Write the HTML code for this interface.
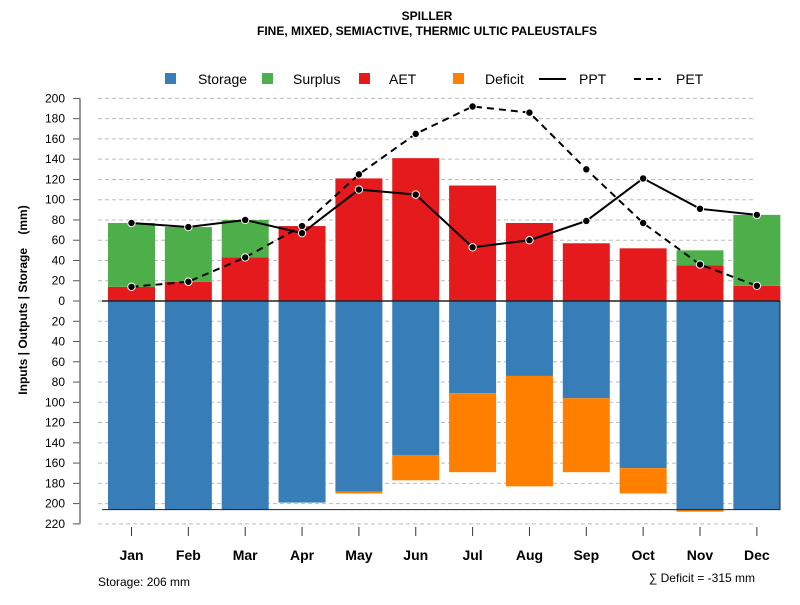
<!DOCTYPE html>
<html><head><meta charset="utf-8"><style>
body{margin:0;background:#fff}
svg{font-family:"Liberation Sans",sans-serif}
</style></head><body>
<svg id="c" width="800" height="600" xmlns="http://www.w3.org/2000/svg">
<text x="427" y="20" text-anchor="middle" font-size="12" font-weight="bold">SPILLER</text>
<text x="427" y="35" text-anchor="middle" font-size="12" font-weight="bold">FINE, MIXED, SEMIACTIVE, THERMIC ULTIC PALEUSTALFS</text>
<g id="legend" font-size="14">
<rect x="165" y="73" width="11" height="11" fill="#377EB8"/>
<text x="198" y="84">Storage</text>
<rect x="262" y="73" width="11" height="11" fill="#4DAF4A"/>
<text x="293" y="84">Surplus</text>
<rect x="359" y="73" width="11" height="11" fill="#E41A1C"/>
<text x="389" y="84">AET</text>
<rect x="453" y="73" width="11" height="11" fill="#FF7F00"/>
<text x="485" y="84">Deficit</text>
<line x1="539" y1="79" x2="566" y2="79" stroke="#000" stroke-width="2"/>
<text x="579" y="84">PPT</text>
<line x1="634" y1="79" x2="661" y2="79" stroke="#000" stroke-width="2" stroke-dasharray="7,5"/>
<text x="676" y="84">PET</text>
</g>
<text transform="translate(27,300) rotate(-90)" text-anchor="middle" font-size="12" font-weight="bold" style="white-space:pre">Inputs | Outputs | Storage    (mm)</text>
<text x="98" y="586" font-size="12">Storage: 206 mm</text>
<text x="755" y="582" text-anchor="end" font-size="12">∑ Deficit = -315 mm</text>
</svg>
<script>
const months=["Jan","Feb","Mar","Apr","May","Jun","Jul","Aug","Sep","Oct","Nov","Dec"];
const aet=[14,19,43,74,121,141,114,77,57,52,35,15];
const surplus=[63,54,37,0,0,0,0,0,0,0,15,70];
const ppt=[77,73,80,67,110,105,53,60,79,121,91,85];
const pet=[14,19,43,74,125,165,192,186,130,77,36,15];
const storage=[206,206,206,199,188,152,91,74,96,165,206,206];
const deficit=[0,0,0,0,2,25,78,109,73,25,2,0];
const yTicks=[200,180,160,140,120,100,80,60,40,20,0,20,40,60,80,100,120,140,160,180,200,220];
const NS="http://www.w3.org/2000/svg";
const svg=document.getElementById('c');
const y0=301,k=1.013;
function yUp(v){return y0-v*k;}
function yDn(v){return y0+v*k;}
function xc(i){return 131.5+i*56.85;}
const bw=47;
function mk(tag,attrs,parent){const e=document.createElementNS(NS,tag);for(const a in attrs)e.setAttribute(a,attrs[a]);(parent||svg).appendChild(e);return e;}
yTicks.forEach((t,i)=>{
  const y=i<=10?yUp(t):yDn(t);
  const g=mk('line',{x1:98,x2:756,y1:y,y2:y,stroke:'#bbb','stroke-dasharray':'4,3'});
  
  
  const tk=mk('line',{x1:73,x2:80,y1:y,y2:y,stroke:'#555'});
  
  
  const tx=mk('text',{x:65,y:y+4,'text-anchor':'end','font-size':12});
  tx.textContent=t;
  
  
});
const ax=mk('line',{x1:80,x2:80,y1:yUp(200),y2:yDn(220),stroke:'#777','stroke-width':1.5});


months.forEach((m,i)=>{
  const x=xc(i)-bw/2;
  const s=mk('rect',{x:x,y:y0,width:bw,height:storage[i]*k,fill:'#377EB8'});
  
  
  if(deficit[i]>0){
    const d=mk('rect',{x:x,y:yDn(storage[i]),width:bw,height:deficit[i]*k,fill:'#FF7F00'});
    
    
  }
  const a=mk('rect',{x:x,y:yUp(aet[i]),width:bw,height:aet[i]*k,fill:'#E41A1C'});
  
  
  if(surplus[i]>0){
    const u=mk('rect',{x:x,y:yUp(aet[i]+surplus[i]),width:bw,height:surplus[i]*k,fill:'#4DAF4A'});
    
    
  }
  const tk=mk('line',{x1:xc(i),x2:xc(i),y1:527,y2:536,stroke:'#333'});
  
  
  const lb=mk('text',{x:xc(i),y:560,'text-anchor':'middle','font-size':14,'font-weight':'bold'});
  lb.textContent=m;
  
  
});
const bl=mk('polyline',{points:'102,'+yDn(206)+' 780,'+yDn(206)+' 780,'+y0,fill:'none',stroke:'#222','stroke-width':1});


const zl=mk('line',{x1:102,x2:780,y1:y0,y2:y0,stroke:'#222','stroke-width':1.5});


function series(vals,name,dash){
  const p=mk('polyline',{points:vals.map((v,i)=>xc(i)+','+yUp(v)).join(' '),fill:'none',stroke:'#000','stroke-width':2,'stroke-dasharray':dash||'none'});
  
  
  vals.forEach((v,i)=>{
    const c=mk('circle',{cx:xc(i),cy:yUp(v),r:3.7,fill:'#000',stroke:'#fff','stroke-width':1});
    
    
  });
}
series(pet,'pet','7,5');
series(ppt,'ppt');
</script>
</body></html>
